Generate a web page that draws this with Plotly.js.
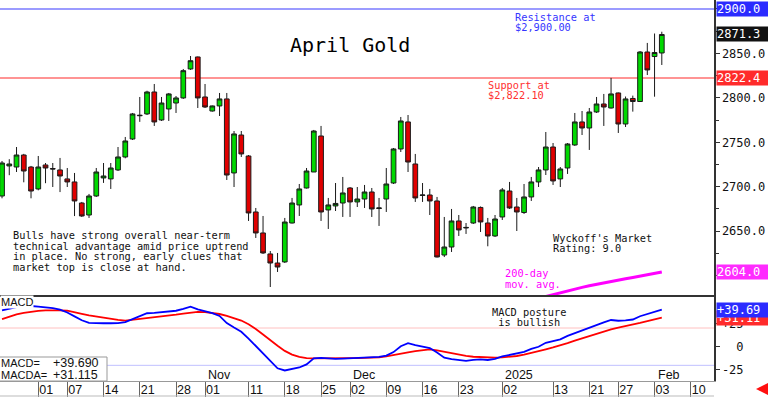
<!DOCTYPE html>
<html><head><meta charset="utf-8">
<script src="https://cdn.plot.ly/plotly-3.0.1.min.js"></script>
<style>html,body{margin:0;padding:0;background:#fff}#chart{width:768px;height:397px}</style>
</head><body><div id="chart"></div>
<script>
// ---- data ----
const opens = [2689.6,2723.4,2722.2,2735.7,2722.2,2697.5,2724.5,2720.5,2718.9,2708.8,2705.4,2681.7,2668.2,2689.6,2709.9,2708.8,2718.9,2733.5,2753.7,2780.5,2781.9,2806.6,2775.1,2787.5,2794.2,2799.9,2832.5,2846.0,2801.0,2785.2,2790.9,2798.8,2715.5,2758.2,2734.6,2671.6,2648.0,2624.4,2614.2,2615.4,2659.2,2679.5,2698.6,2716.6,2757.1,2673.9,2678.4,2681.7,2698.6,2682.9,2686.2,2694.1,2675.5,2686.2,2704.2,2742.5,2772.9,2725.6,2690.2,2690.7,2684.0,2623.2,2632.2,2661.5,2653.6,2659.2,2676.7,2659.2,2644.6,2666.0,2695.2,2677.2,2671.0,2688.5,2705.4,2718.9,2744.7,2708.8,2721.1,2747.0,2772.9,2766.1,2784.1,2793.1,2788.6,2805.5,2770.6,2799.3,2795.9,2851.6,2846.5,2850.5];
const highs = [2729.0,2731.0,2744.7,2737.0,2723.4,2734.6,2726.7,2726.7,2732.4,2721.1,2715.5,2682.9,2691.9,2721.1,2726.7,2726.7,2744.7,2756.0,2783.0,2801.0,2808.0,2815.6,2801.0,2805.5,2802.1,2832.5,2847.1,2846.5,2815.6,2791.4,2805.5,2805.5,2762.7,2762.7,2735.7,2676.1,2667.1,2627.7,2625.5,2664.9,2687.4,2703.1,2721.1,2763.9,2768.4,2687.4,2704.2,2711.0,2699.7,2699.7,2702.0,2698.6,2687.4,2721.1,2743.6,2778.5,2780.7,2736.9,2704.2,2697.5,2688.5,2666.0,2675.0,2668.2,2659.2,2678.4,2677.8,2664.9,2668.2,2698.6,2705.4,2687.4,2703.1,2711.0,2722.2,2761.6,2749.2,2722.2,2749.2,2783.0,2785.2,2788.6,2801.0,2804.4,2822.4,2806.0,2801.5,2802.5,2852.7,2861.8,2872.4,2874.4];
const lows = [2687.0,2713.0,2716.6,2705.0,2687.0,2696.0,2704.0,2699.7,2694.0,2699.7,2667.0,2666.0,2664.9,2688.5,2704.3,2697.5,2717.7,2732.0,2752.6,2773.0,2780.7,2768.4,2774.0,2774.0,2783.0,2798.8,2831.4,2788.6,2788.6,2784.5,2779.6,2707.6,2699.7,2733.5,2661.5,2642.4,2624.4,2587.2,2604.1,2614.2,2658.7,2667.1,2698.0,2716.6,2661.5,2652.5,2672.7,2666.0,2666.0,2677.2,2676.1,2666.0,2655.9,2671.6,2703.1,2739.1,2716.6,2682.9,2682.9,2668.2,2620.4,2620.9,2626.6,2644.6,2646.9,2658.1,2649.1,2633.0,2643.5,2662.6,2675.0,2650.2,2669.4,2684.0,2699.7,2713.2,2702.0,2699.7,2714.4,2745.9,2758.2,2741.4,2783.0,2768.4,2788.0,2760.5,2767.2,2784.5,2795.4,2825.7,2801.3,2837.0];
const closes = [2726.7,2725.6,2735.7,2717.7,2695.2,2722.2,2721.1,2720.0,2712.1,2705.4,2684.0,2667.1,2689.6,2716.6,2712.1,2721.1,2733.5,2751.5,2781.9,2780.0,2806.6,2772.9,2794.2,2804.4,2799.9,2830.6,2841.8,2799.9,2789.7,2790.9,2798.8,2713.2,2759.4,2736.9,2670.5,2648.0,2625.5,2614.2,2609.7,2660.3,2681.7,2697.5,2717.7,2762.7,2671.6,2679.5,2681.2,2693.0,2682.9,2686.2,2694.1,2675.0,2676.1,2703.1,2742.5,2774.0,2727.8,2687.4,2690.7,2684.0,2621.0,2632.2,2661.5,2651.4,2654.2,2677.2,2660.4,2644.6,2663.7,2696.4,2676.1,2671.6,2688.5,2705.4,2718.9,2744.7,2706.5,2720.0,2748.1,2772.9,2766.1,2784.1,2793.1,2789.7,2804.4,2770.6,2798.8,2795.9,2851.6,2831.4,2851.0,2871.3];
const macd = [39,41,42.5,43.3,43.6,43,42.2,41.2,39.6,36.6,32.5,28.3,25.6,25.1,25.1,25.1,25.2,26.3,29.3,32.6,35.8,36.2,36.8,37.7,38.5,40.5,42.8,40,38,36,32.9,25.3,20.5,16,8.7,0.5,-7.1,-15,-23.2,-25.5,-24.3,-22.3,-19,-12.5,-12,-12.8,-13,-12.8,-12.5,-12.2,-11.8,-11.4,-11,-9.5,-5.8,0.5,3.7,1.6,-0.2,-1.5,-6.3,-11.8,-13.3,-14.4,-15.2,-14.2,-13.7,-14.3,-13.1,-10.5,-9.1,-7.8,-5.6,-2.4,-0.1,4.2,5.7,7.8,11.5,14.5,17.5,20.7,23.5,26,28.6,27.8,28.1,29.1,32.6,35,37.4,39.69];
const macdSignal = [29.5,32.5,34.7,36.2,37.5,38.3,39,39.3,39,38.5,37.2,35.2,33.6,32.3,31,29.8,28.7,28,28.8,29.7,30.6,31.5,32.4,33.4,34.4,35.5,36.4,37.3,37,36,35,33,30.5,28,24,19,13,6.5,1,-4.5,-8.5,-11,-12.3,-12.5,-12.6,-12.6,-12.5,-12.4,-12.3,-12.2,-12,-11.9,-11.5,-10.5,-9.3,-7.8,-6.2,-4.8,-3.5,-2.9,-4,-5.6,-7.1,-8.5,-9.8,-10.8,-11.3,-11.7,-11.8,-11.4,-10.8,-10,-8.5,-6.8,-5.2,-2.8,-0.8,1.2,3.8,6.5,9,11.7,14.4,16.6,18.6,20.5,22,23.6,25.5,27.4,29.3,31.115];
const maIdx = [75,76,77,78,79,80,81,82,83,84,85,86,87,88,89,90,91];
const ma200 = [2576.5,2578.7,2580.8,2582.9,2584.9,2586.8,2588.6,2590.3,2591.9,2593.4,2594.9,2596.4,2597.9,2599.3,2600.7,2602.1,2604.0];
const dayTickIdx = [5,9,14,19,24,28,34,39,44,48,53,58,63,69,76,81,85,90,95];
const dayTickText = ["01","07","14","21","28","01","11","18","25","02","09","16","23","02","13","21","27","03","10"];
const monthIdx = [28,48,69,90];
const monthText = ["Nov","Dec","2025","Feb"];
const priceTickVals = [2600,2650,2700,2750,2800,2850,2900];
const priceTickText = ["","2650.0","2700.0","2750.0","2800.0","2850.0",""];
const priceMinorVals = [2600,2625,2650,2675,2700,2725,2750,2775,2800,2825,2850,2875,2900];
const resistance = 2900.0;
const support = 2822.4;
const macdRefLevels = [20,-20];
const macdTickVals = [-25,0,25];
const macdTickText = ["-25","\u00a0\u00a00","+25"];

// ---- drawing ----
const W = 768, H = 397;
const px = x => x / W, py = y => 1 - y / H;
const mono = "DejaVu Sans Mono", sans = "Liberation Sans, Arial, sans-serif";
const idx = opens.map((_, i) => i);
const xr = [-0.28, 98.2];
const xdom = [0, 714 / W];

const traces = [
  {type:'candlestick', x:idx, open:opens, high:highs, low:lows, close:closes, xaxis:'x', yaxis:'y',
   increasing:{fillcolor:'#00d800', line:{color:'#1a1a1a', width:1}},
   decreasing:{fillcolor:'#e00000', line:{color:'#1a1a1a', width:1}},
   whiskerwidth:0, hoverinfo:'skip'},
  {type:'scatter', mode:'lines', x:maIdx, y:ma200, xaxis:'x', yaxis:'y', line:{color:'#ff00ff', width:3}, hoverinfo:'skip'},
  {type:'scatter', mode:'lines', x:idx, y:macdSignal, xaxis:'x2', yaxis:'y2', line:{color:'#ff0000', width:1.8}, hoverinfo:'skip'},
  {type:'scatter', mode:'lines', x:idx, y:macd, xaxis:'x2', yaxis:'y2', line:{color:'#0000ff', width:1.8}, hoverinfo:'skip'}
];

const ann = [];
function lines(arr, x, y0, dy, color, size, family) {
  arr.forEach((t, k) => ann.push({xref:'paper', yref:'paper', x:px(x), y:py(y0 + k*dy), xanchor:'left', yanchor:'middle',
    text:t, showarrow:false, font:{family:family||mono, size:size||10.3, color:color||'#111'}}));
}
ann.push({xref:'paper', yref:'paper', x:px(350), y:py(45), xanchor:'center', yanchor:'middle', text:'April Gold', showarrow:false,
  font:{family:mono, size:20, color:'#000'}});
lines(['Resistance at','$2,900.00'], 513, 17, 10.3, '#3535ff');
lines(['Support at','$2,822.10'], 486, 85, 10.3, '#ff3030');
lines(['Bulls have strong overall near-term','technical advantage amid price uptrend','in place. No strong, early clues that','market top is close at hand.'], 11, 235, 10.5, '#111');
lines(["Wyckoff's Market",'Rating: 9.0'], 551, 238, 10.3, '#111');
lines(['200-day','mov. avg.'], 503, 273, 10.5, '#ff00ff');
lines(['MACD posture',' is bullish'], 490, 312, 10.3, '#111');
ann.push({xref:'paper', yref:'paper', x:px(0), y:py(302), xanchor:'left', yanchor:'middle', text:'MACD', showarrow:false,
  bgcolor:'#fff', borderpad:0, font:{family:sans, size:11, color:'#111'}});
// MACD value box
lines(['MACD=','MACDA='], -1, 362.5, 12, '#111', 11, sans);
ann.push({xref:'paper', yref:'paper', x:px(51), y:py(362.5), xanchor:'left', yanchor:'middle', showarrow:false,
  text:'+' + macd[macd.length-1].toFixed(3), font:{family:sans, size:12.5, color:'#111'}});
ann.push({xref:'paper', yref:'paper', x:px(51), y:py(374.5), xanchor:'left', yanchor:'middle', showarrow:false,
  text:'+' + macdSignal[macdSignal.length-1].toFixed(3), font:{family:sans, size:12.5, color:'#111'}});
// month labels
monthIdx.forEach((m, k) => ann.push({xref:'x2', yref:'paper', x:m, y:py(375), xanchor:'left', yanchor:'middle', xshift:1,
  text:monthText[k], showarrow:false, font:{family:sans, size:12.5, color:'#111'}}));
// right-axis value boxes
function box(val, yref, color, txt) {
  ann.push({xref:'paper', x:px(716), xanchor:'left', yref:yref, y:val, yanchor:'middle', text:txt, showarrow:false,
    bgcolor:color, borderpad:0, width:52, align:'left', font:{family:mono, size:12, color:'#fff'}});
}
box(resistance, 'y', '#2b2bff', resistance.toFixed(1));
box(closes[closes.length-1], 'y', '#111', closes[closes.length-1].toFixed(1));
box(support, 'y', '#ff2b2b', support.toFixed(1));
box(ma200[ma200.length-1], 'y', '#ff2bff', ma200[ma200.length-1].toFixed(1));
box(macdSignal[macdSignal.length-1], 'y2', '#ff2b2b', '+' + macdSignal[macdSignal.length-1].toFixed(2));
box(macd[macd.length-1], 'y2', '#2b2bff', '+' + macd[macd.length-1].toFixed(2));
// red arrow bottom right
ann.push({xref:'paper', yref:'paper', x:px(756), y:py(389), ax:11, ay:0, text:'', showarrow:true,
  arrowhead:2, arrowsize:0.9, arrowwidth:3, arrowcolor:'#ff1010'});

const shapes = [
  {type:'line', xref:'x domain', x0:0, x1:1, yref:'y', y0:resistance, y1:resistance, line:{color:'#7a7aff', width:1.5}, layer:'below'},
  {type:'line', xref:'x domain', x0:0, x1:1, yref:'y', y0:support, y1:support, line:{color:'#ff7070', width:1.5}, layer:'below'},
  ...macdRefLevels.map((v, k) => ({type:'line', xref:'x2 domain', x0:0, x1:1, yref:'y2', y0:v, y1:v,
     line:{color: k === 0 ? '#ffc0c0' : '#c0c0ff', width:1}, layer:'below'})),
  {type:'rect', xref:'paper', yref:'paper', x0:px(-1), x1:px(107), y0:py(381), y1:py(357), line:{color:'#999', width:1}, fillcolor:'#fff'},
  {type:'line', xref:'paper', yref:'paper', x0:0, x1:px(714), y0:py(396), y1:py(396), line:{color:'#bbb', width:1}}
];

const layout = {
  width:W, height:H, margin:{l:0, r:0, t:0, b:0}, paper_bgcolor:'#fff', plot_bgcolor:'#fff', showlegend:false,
  boxgap:0.35, boxgroupgap:0, hovermode:false,
  xaxis:{domain:xdom, range:xr, anchor:'y', showticklabels:false, ticks:'', showgrid:false, zeroline:false,
    showline:true, linecolor:'#333', linewidth:2, rangeslider:{visible:false}},
  xaxis2:{domain:xdom, range:xr, anchor:'y2', tickmode:'array', tickvals:dayTickIdx, ticktext:dayTickText,
    ticks:'outside', ticklen:16, tickwidth:1, tickcolor:'#666', showgrid:false, zeroline:false,
    showline:true, linecolor:'#999', linewidth:1, tickfont:{family:sans, size:12.5, color:'#111'},
    ticklabelshift:8, ticklabelstandoff:-19},
  yaxis:{domain:[102/H, 1], range:[2578.2, 2910.1], side:'right', anchor:'x', tickmode:'array',
    tickvals:priceTickVals, ticktext:priceTickText, ticks:'outside', ticklen:4, tickcolor:'#333', showgrid:false, zeroline:false,
    showline:true, linecolor:'#333', linewidth:1.5, tickfont:{family:mono, size:12, color:'#111'},
    minor:{tickmode:'array', tickvals:priceMinorVals, ticks:'outside', ticklen:3, tickcolor:'#333'}},
  yaxis2:{domain:[16/H, 101/H], range:[-36.8, 54.3], side:'right', anchor:'x2', tickmode:'array',
    tickvals:macdTickVals, ticktext:macdTickText, ticks:'outside', ticklen:4, tickcolor:'#333',
    showgrid:false, zeroline:false, showline:true, linecolor:'#333', linewidth:1.5,
    tickfont:{family:mono, size:12, color:'#111'}},
  annotations:ann, shapes:shapes
};
Plotly.newPlot('chart', traces, layout, {staticPlot:true, displayModeBar:false});
</script></body></html>
